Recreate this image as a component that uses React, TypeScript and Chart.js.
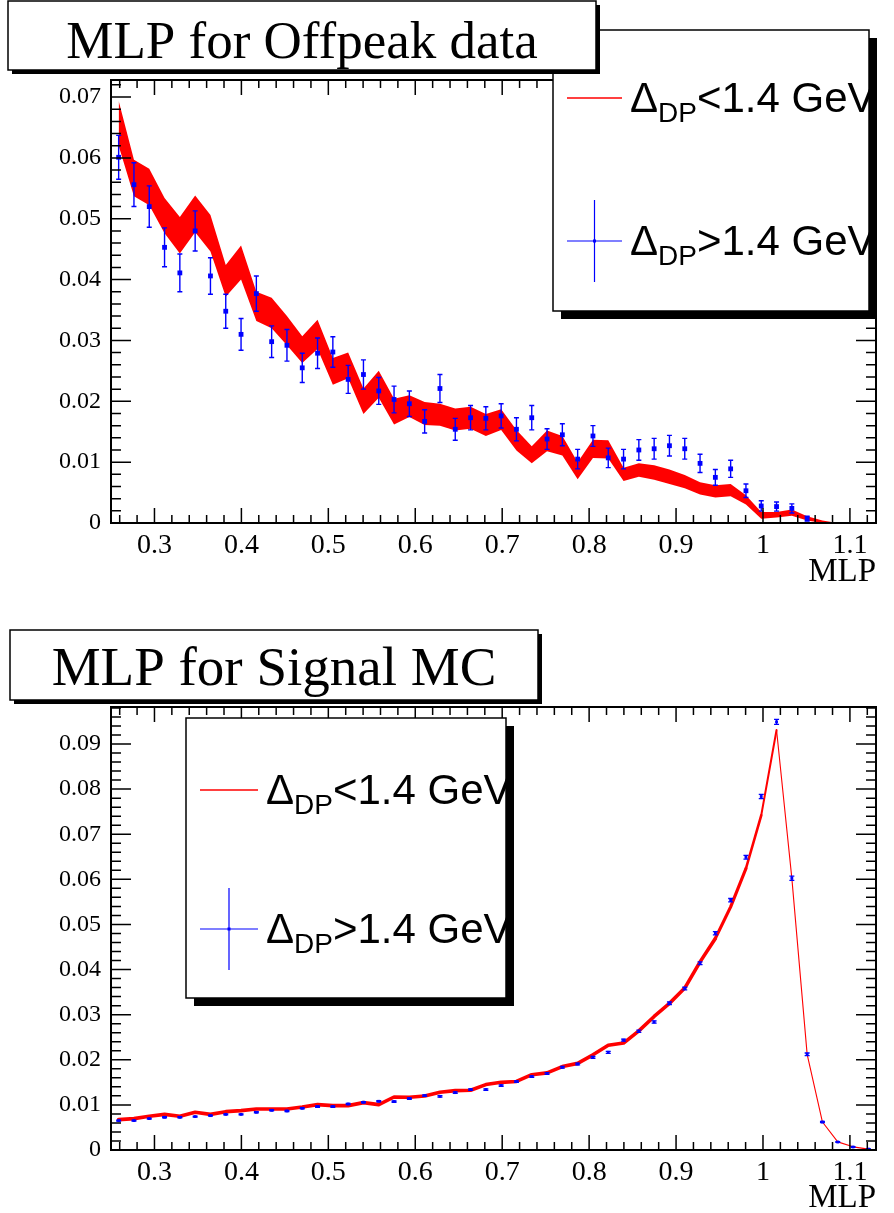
import React, { useEffect, useRef } from "react";
import { Chart, registerables } from "chart.js";

Chart.register(...registerables);

// ---------------- data ----------------
const binCenters: number[] = [
  0.2588, 0.2764, 0.294, 0.3116, 0.3292, 0.3468, 0.3644, 0.382, 0.3996, 0.4172,
  0.4348, 0.4524, 0.47, 0.4876, 0.5052, 0.5228, 0.5404, 0.558, 0.5756, 0.5932,
  0.6108, 0.6284, 0.646, 0.6636, 0.6812, 0.6988, 0.7164, 0.734, 0.7516, 0.7692,
  0.7868, 0.8044, 0.822, 0.8396, 0.8572, 0.8748, 0.8924, 0.91, 0.9276, 0.9452,
  0.9628, 0.9804, 0.998, 1.0156, 1.0332, 1.0508, 1.0684, 1.086, 1.1036, 1.1212,
];

// Offpeak data, Delta_DP > 1.4 GeV (blue points)
const offpeakPoints: (number | null)[] = [
  0.0601, 0.0556, 0.052, 0.0453, 0.0411, 0.048, 0.0406, 0.0348, 0.031, 0.0377,
  0.0298, 0.0292, 0.0255, 0.0279, 0.0281, 0.0236, 0.0244, 0.0217, 0.0203, 0.0196,
  0.0167, 0.0221, 0.0154, 0.0173, 0.0172, 0.0176, 0.0154, 0.0173, 0.0138, 0.0145,
  0.0105, 0.0143, 0.0107, 0.0105, 0.012, 0.0122, 0.0127, 0.0122, 0.0098, 0.0075,
  0.0089, 0.0053, 0.0028, 0.0027, 0.0024, 0.0007, null, null, null, null,
];
const offpeakPointErrors: number[] = [
  0.0036, 0.0036, 0.0034, 0.0032, 0.0031, 0.0033, 0.003, 0.0028, 0.0026, 0.0029,
  0.0026, 0.0026, 0.0024, 0.0025, 0.0025, 0.0023, 0.0024, 0.0022, 0.0022, 0.0021,
  0.0019, 0.0023, 0.0018, 0.002, 0.0019, 0.002, 0.0019, 0.002, 0.0017, 0.0018,
  0.0016, 0.0017, 0.0016, 0.0016, 0.0017, 0.0017, 0.0017, 0.0017, 0.0015, 0.0013,
  0.0014, 0.0011, 0.00085, 0.00075, 0.00075, 0.0004, 0, 0, 0, 0,
];

// Offpeak data, Delta_DP < 1.4 GeV (red band: centre and half-width)
const offpeakBand: number[] = [
  0.0657, 0.0567, 0.0552, 0.0505, 0.0473, 0.0508, 0.0476, 0.0398, 0.0428, 0.0356,
  0.0345, 0.0316, 0.0285, 0.031, 0.0249, 0.0259, 0.02, 0.0228, 0.0183, 0.0192,
  0.018, 0.0178, 0.017, 0.0173, 0.0161, 0.017, 0.0136, 0.0112, 0.0135, 0.0127,
  0.0086, 0.0122, 0.0121, 0.008, 0.0087, 0.0083, 0.0076, 0.0068, 0.0057, 0.0052,
  0.0054, 0.0038, 0.00125, 0.00135, 0.0017, 0.00075, 0.0002, 0, 0, 0,
];
const offpeakBandErrors: number[] = [
  0.0037, 0.003, 0.003, 0.0029, 0.003, 0.003, 0.003, 0.0026, 0.0028, 0.0024,
  0.0025, 0.0024, 0.0022, 0.0024, 0.0022, 0.0021, 0.0021, 0.0022, 0.0021, 0.0018,
  0.0019, 0.0018, 0.0018, 0.0018, 0.0018, 0.0017, 0.0017, 0.0014, 0.0017, 0.0016,
  0.0014, 0.0015, 0.0015, 0.0011, 0.0011, 0.0012, 0.0012, 0.0011, 0.001, 0.001,
  0.001, 0.00075, 0.00055, 0.00045, 0.0005, 0.00035, 0.0002, 0, 0, 0,
];

// Signal MC, Delta_DP > 1.4 GeV (blue points)
const signalPoints: number[] = [
  0.00652, 0.00652, 0.00696, 0.00725, 0.00725, 0.0074, 0.00762, 0.0079, 0.0079, 0.00836,
  0.0088, 0.00865, 0.00925, 0.00962, 0.00962, 0.0102, 0.01058, 0.0108, 0.01073, 0.0114,
  0.01206, 0.0119, 0.01272, 0.0134, 0.0134, 0.01428, 0.01516, 0.01627, 0.01694, 0.01834,
  0.01907, 0.02055, 0.02166, 0.02436, 0.02632, 0.02838, 0.03253, 0.03578, 0.0414, 0.04805,
  0.05537, 0.0649, 0.07836, 0.0949, 0.06024, 0.02122, 0.0062, 0.00177, 0.00067, 0.0002,
];
const signalPointErrors: number[] = [
  0.00012, 0.00012, 0.00012, 0.00012, 0.00012, 0.00012, 0.00013, 0.00013, 0.00013, 0.00013,
  0.00013, 0.00013, 0.00014, 0.00014, 0.00014, 0.00014, 0.00015, 0.00015, 0.00015, 0.00015,
  0.00016, 0.00016, 0.00016, 0.00017, 0.00017, 0.00017, 0.00018, 0.00018, 0.00019, 0.0002,
  0.0002, 0.00021, 0.00022, 0.00023, 0.00024, 0.00026, 0.00028, 0.0003, 0.00032, 0.00035,
  0.00038, 0.00042, 0.00048, 0.00055, 0.00045, 0.00028, 0.00014, 0.0001, 0.0001, 0.0001,
];

// Signal MC, Delta_DP < 1.4 GeV (red curve)
const signalCurve: number[] = [
  0.00674, 0.00696, 0.00747, 0.0079, 0.00747, 0.00836, 0.0079, 0.0085, 0.00873, 0.0091,
  0.0091, 0.0091, 0.00954, 0.01006, 0.00984, 0.00984, 0.0105, 0.01006, 0.01175, 0.01168,
  0.01197, 0.01279, 0.01317, 0.01324, 0.0145, 0.015, 0.0152, 0.0167, 0.0171, 0.0185,
  0.0192, 0.0211, 0.0232, 0.0237, 0.0264, 0.0296, 0.0325, 0.0359, 0.0417, 0.0469,
  0.0539, 0.0624, 0.0742, 0.0931, 0.0602, 0.0212, 0.0062, 0.0018, 0.0007, 0.0002,
];

const xTickValues: number[] = [0.3, 0.4, 0.5, 0.6, 0.7, 0.8, 0.9, 1.0, 1.1];
const xTickLabels: string[] = ["0.3", "0.4", "0.5", "0.6", "0.7", "0.8", "0.9", "1", "1.1"];
const offpeakYTicks: number[] = [0, 0.01, 0.02, 0.03, 0.04, 0.05, 0.06, 0.07];
const offpeakYLabels: string[] = ["0", "0.01", "0.02", "0.03", "0.04", "0.05", "0.06", "0.07"];
const signalYTicks: number[] = [0, 0.01, 0.02, 0.03, 0.04, 0.05, 0.06, 0.07, 0.08, 0.09];
const signalYLabels: string[] = ["0", "0.01", "0.02", "0.03", "0.04", "0.05", "0.06", "0.07", "0.08", "0.09"];

const titleTop = "MLP for Offpeak data";
const titleBottom = "MLP for Signal MC";
const xAxisTitle = "MLP";
const legendLow = { main: "\u0394", sub: "DP", rest: "<1.4 GeV" };
const legendHigh = { main: "\u0394", sub: "DP", rest: ">1.4 GeV" };

// ---------------- drawing helpers ----------------
const SERIF = '"Liberation Serif", "DejaVu Serif", serif';
const SANS = '"Liberation Sans", Arial, sans-serif';

type Box = { x: number; y: number; w: number; h: number; sh: number; so: number };

function drawShadowBox(ctx: CanvasRenderingContext2D, b: Box) {
  ctx.save();
  ctx.fillStyle = "#fff";
  ctx.fillRect(b.x, b.y, b.w, b.h);
  ctx.strokeStyle = "#000";
  ctx.lineWidth = 1.5;
  ctx.strokeRect(b.x, b.y, b.w, b.h);
  ctx.restore();
}
function drawShadow(ctx: CanvasRenderingContext2D, b: Box) {
  ctx.save();
  ctx.fillStyle = "#000";
  ctx.fillRect(b.x + b.w, b.y + b.so, b.sh, b.h - b.so + b.sh);
  ctx.fillRect(b.x + b.so, b.y + b.h, b.w - b.so + b.sh, b.sh);
  ctx.restore();
}

function drawLegendText(
  ctx: CanvasRenderingContext2D,
  t: { main: string; sub: string; rest: string },
  x: number,
  baseline: number
) {
  ctx.fillStyle = "#000";
  ctx.textAlign = "left";
  ctx.textBaseline = "alphabetic";
  ctx.font = `42px ${SANS}`;
  ctx.fillText(t.main, x, baseline);
  x += ctx.measureText(t.main).width;
  ctx.font = `28px ${SANS}`;
  ctx.fillText(t.sub, x, baseline + 10);
  x += ctx.measureText(t.sub).width;
  ctx.font = `42px ${SANS}`;
  ctx.fillText(t.rest, x, baseline);
}

type LegendCfg = {
  box: Box;
  sampleX0: number;
  sampleX1: number;
  row1Y: number;
  row2Y: number;
  textX: number;
  errHalf: number;
};

type PanelCfg = {
  title: string;
  titleBox: Box;
  titleBaseline: number;
  titleSize: number;
  legend: LegendCfg;
  yMax: number;
  points: (number | null)[];
  pointErrors: number[];
  capHalf: number;
  errWidth: number;
  mlpBaseline: number;
};

function makePlugin(cfg: PanelCfg) {
  return {
    id: "rootStyle",
    beforeDatasetDraw(chart: any, args: any) {
      if (args.index !== 0) return;
      const ctx: CanvasRenderingContext2D = chart.ctx;
      const xs = chart.scales.x;
      const ys = chart.scales.y;
      ctx.save();
      ctx.strokeStyle = "#0000ff";
      ctx.lineWidth = cfg.errWidth;
      cfg.points.forEach((v, i) => {
        if (v === null || v === undefined) return;
        const e = cfg.pointErrors[i];
        if (!e) return;
        const px = xs.getPixelForValue(binCenters[i]);
        const y1 = ys.getPixelForValue(v + e);
        const y2 = ys.getPixelForValue(Math.max(0, v - e));
        ctx.beginPath();
        ctx.moveTo(px, y1);
        ctx.lineTo(px, y2);
        ctx.moveTo(px - cfg.capHalf, y1);
        ctx.lineTo(px + cfg.capHalf, y1);
        ctx.moveTo(px - cfg.capHalf, y2);
        ctx.lineTo(px + cfg.capHalf, y2);
        ctx.stroke();
      });
      ctx.restore();
    },
    afterDraw(chart: any) {
      const ctx: CanvasRenderingContext2D = chart.ctx;
      const xs = chart.scales.x;
      const ys = chart.scales.y;
      const { left, right, top, bottom } = chart.chartArea;
      ctx.save();
      // ticks
      ctx.strokeStyle = "#000";
      ctx.lineWidth = 1.5;
      ctx.beginPath();
      for (let k = 13; k <= 56; k++) {
        const px = xs.getPixelForValue(k * 0.02);
        const len = k % 5 === 0 ? 15 : 8;
        ctx.moveTo(px, bottom);
        ctx.lineTo(px, bottom - len);
        ctx.moveTo(px, top);
        ctx.lineTo(px, top + len);
      }
      for (let k = 0; k * 0.002 <= cfg.yMax + 1e-9; k++) {
        const py = ys.getPixelForValue(k * 0.002);
        const len = k % 5 === 0 ? 20 : 10;
        ctx.moveTo(left, py);
        ctx.lineTo(left + len, py);
        ctx.moveTo(right, py);
        ctx.lineTo(right - len, py);
      }
      ctx.stroke();
      // frame
      ctx.lineWidth = 2;
      ctx.strokeRect(left, top, right - left, bottom - top);
      // axis title
      ctx.fillStyle = "#000";
      ctx.font = `33px ${SERIF}`;
      ctx.textAlign = "right";
      ctx.textBaseline = "alphabetic";
      ctx.fillText(xAxisTitle, right, cfg.mlpBaseline);

      // legend
      const lg = cfg.legend;
      const b = lg.box;
      drawShadowBox(ctx, b);
      const mid = (lg.sampleX0 + lg.sampleX1) / 2;
      ctx.lineWidth = 1.5;
      ctx.strokeStyle = "#ff0000";
      ctx.beginPath();
      ctx.moveTo(lg.sampleX0, lg.row1Y);
      ctx.lineTo(lg.sampleX1, lg.row1Y);
      ctx.stroke();
      ctx.strokeStyle = "#0000ff";
      ctx.lineWidth = 1.2;
      ctx.beginPath();
      ctx.moveTo(lg.sampleX0, lg.row2Y);
      ctx.lineTo(lg.sampleX1, lg.row2Y);
      ctx.moveTo(mid, lg.row2Y - lg.errHalf);
      ctx.lineTo(mid, lg.row2Y + lg.errHalf);
      ctx.stroke();
      ctx.fillStyle = "#0000ff";
      ctx.fillRect(mid - 1.5, lg.row2Y - 1.5, 3, 3);
      ctx.save();
      ctx.beginPath();
      ctx.rect(b.x, b.y, b.w, b.h);
      ctx.clip();
      drawLegendText(ctx, legendLow, lg.textX, lg.row1Y + 14);
      drawLegendText(ctx, legendHigh, lg.textX, lg.row2Y + 14);
      ctx.restore();
      drawShadow(ctx, b);

      // title box (drawn over the legend)
      const tb = cfg.titleBox;
      drawShadowBox(ctx, tb);
      drawShadow(ctx, tb);
      ctx.fillStyle = "#000";
      ctx.font = `${cfg.titleSize}px ${SERIF}`;
      ctx.textAlign = "center";
      ctx.textBaseline = "alphabetic";
      ctx.fillText(cfg.title, tb.x + tb.w / 2, cfg.titleBaseline);
      ctx.restore();
    },
  };
}

function buildChart(
  canvas: HTMLCanvasElement,
  cfg: PanelCfg,
  datasets: any[],
  yTicks: number[],
  yLabels: string[],
  padTop: number,
  xAxisHeight: number
) {
  return new Chart(canvas, {
    type: "line",
    data: { datasets },
    options: {
      animation: false,
      responsive: false,
      devicePixelRatio: 1,
      layout: { padding: { top: padTop, right: 18, left: 0, bottom: 0 } },
      plugins: {
        legend: { display: false },
        tooltip: { enabled: false },
        title: { display: false },
      },
      scales: {
        x: {
          type: "linear",
          min: 0.25,
          max: 1.13,
          grid: { display: false, drawTicks: false },
          border: { display: false },
          afterBuildTicks: (s: any) => {
            s.ticks = xTickValues.map((v) => ({ value: v }));
          },
          afterFit: (s: any) => {
            s.height = xAxisHeight;
          },
          ticks: {
            autoSkip: false,
            maxRotation: 0,
            padding: 6,
            color: "#000",
            font: { family: SERIF, size: 28 },
            callback: (_v: any, i: number) => xTickLabels[i],
          },
        },
        y: {
          type: "linear",
          min: 0,
          max: cfg.yMax,
          grid: { display: false, drawTicks: false },
          border: { display: false },
          afterBuildTicks: (s: any) => {
            s.ticks = yTicks.map((v) => ({ value: v }));
          },
          afterFit: (s: any) => {
            s.width = 111;
          },
          ticks: {
            autoSkip: false,
            padding: 10,
            color: "#000",
            font: { family: SERIF, size: 24 },
            callback: (_v: any, i: number) => yLabels[i],
          },
        },
      },
    } as any,
    plugins: [makePlugin(cfg) as any],
  });
}

export default function App() {
  const topRef = useRef<HTMLCanvasElement | null>(null);
  const botRef = useRef<HTMLCanvasElement | null>(null);

  useEffect(() => {
    document.body.style.margin = "0";
    const topCfg: PanelCfg = {
      title: titleTop,
      titleBox: { x: 8, y: 1, w: 588, h: 69, sh: 4, so: 4 },
      titleBaseline: 58,
      titleSize: 53,
      legend: {
        box: { x: 553, y: 30, w: 316, h: 281, sh: 8, so: 8 },
        sampleX0: 567,
        sampleX1: 622,
        row1Y: 98,
        row2Y: 241,
        textX: 630,
        errHalf: 41,
      },
      yMax: 0.0728,
      points: offpeakPoints,
      pointErrors: offpeakPointErrors,
      capHalf: 2.5,
      errWidth: 1.4,
      mlpBaseline: 581,
    };
    const botCfg: PanelCfg = {
      title: titleBottom,
      titleBox: { x: 10, y: 30, w: 528, h: 70, sh: 4, so: 4 },
      titleBaseline: 85,
      titleSize: 55,
      legend: {
        box: { x: 186, y: 118, w: 320, h: 280, sh: 8, so: 8 },
        sampleX0: 200,
        sampleX1: 258,
        row1Y: 190,
        row2Y: 329,
        textX: 266,
        errHalf: 41,
      },
      yMax: 0.0982,
      points: signalPoints,
      pointErrors: signalPointErrors,
      capHalf: 2.5,
      errWidth: 1.3,
      mlpBaseline: 607,
    };

    const topSets = [
      {
        data: binCenters.map((x, i) => ({ x, y: offpeakPoints[i] })),
        showLine: false,
        pointStyle: "rect",
        pointRadius: 3.4,
        pointBackgroundColor: "#0000ff",
        pointBorderWidth: 0,
        order: 0,
      },
      {
        data: binCenters.map((x, i) => ({ x, y: offpeakBand[i] + offpeakBandErrors[i] })),
        borderColor: "rgba(0,0,0,0)",
        borderWidth: 0,
        backgroundColor: "#ff0000",
        fill: "+1",
        pointRadius: 0,
        tension: 0,
        order: 1,
      },
      {
        data: binCenters.map((x, i) => ({ x, y: Math.max(0, offpeakBand[i] - offpeakBandErrors[i]) })),
        borderColor: "rgba(0,0,0,0)",
        borderWidth: 0,
        fill: false,
        pointRadius: 0,
        tension: 0,
        order: 2,
      },
    ];

    const widthFor = (i: number) => (i <= 38 ? 3.6 : i <= 40 ? 3.2 : i === 41 ? 2.6 : i === 42 ? 2 : 1.1);
    const botSets = [
      {
        data: binCenters.map((x, i) => ({ x, y: signalPoints[i] })),
        showLine: false,
        pointStyle: "rect",
        pointRadius: 2,
        pointBackgroundColor: "#0000ff",
        pointBorderWidth: 0,
        order: 0,
      },
      {
        data: binCenters.map((x, i) => ({ x, y: signalCurve[i] })),
        borderColor: "#ff0000",
        borderWidth: 3.6,
        borderCapStyle: "round",
        borderJoinStyle: "round",
        segment: { borderWidth: (c: any) => widthFor(c.p0DataIndex) },
        fill: false,
        pointRadius: 0,
        tension: 0,
        order: 1,
      },
    ];

    const c1 = buildChart(topRef.current!, topCfg, topSets, offpeakYTicks, offpeakYLabels, 80, 77);
    const c2 = buildChart(botRef.current!, botCfg, botSets, signalYTicks, signalYLabels, 107, 63);
    return () => {
      c1.destroy();
      c2.destroy();
    };
  }, []);

  return (
    <div style={{ position: "absolute", left: 0, top: 0, width: 894, height: 1213, background: "#fff" }}>
      <canvas
        ref={topRef}
        width={894}
        height={600}
        style={{ position: "absolute", left: 0, top: 0, width: 894, height: 600 }}
      />
      <canvas
        ref={botRef}
        width={894}
        height={613}
        style={{ position: "absolute", left: 0, top: 600, width: 894, height: 613 }}
      />
    </div>
  );
}
